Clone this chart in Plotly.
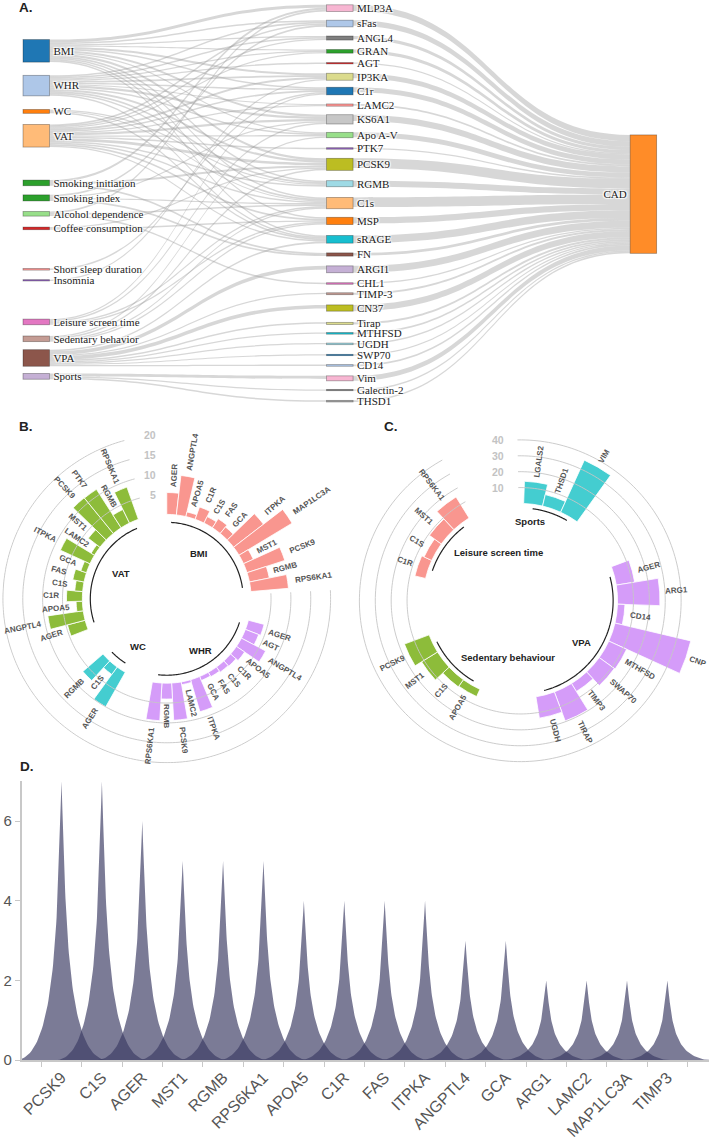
import numpy as np
import plotly.graph_objects as go

FIG_W, FIG_H = 709, 1143
SANS = "Liberation Sans, Arial, sans-serif"
SERIF = "Liberation Serif, Times New Roman, serif"

# ======================= Panel A : Sankey data =======================
exposures = ["BMI", "WHR", "WC", "VAT", "Smoking initiation", "Smoking index",
             "Alcohol dependence", "Coffee consumption", "Short sleep duration",
             "Insomnia", "Leisure screen time", "Sedentary behavior", "VPA", "Sports"]
proteins = ["MLP3A", "sFas", "ANGL4", "GRAN", "AGT", "IP3KA", "C1r", "LAMC2", "KS6A1",
            "Apo A-V", "PTK7", "PCSK9", "RGMB", "C1s", "MSP", "sRAGE", "FN", "ARGI1",
            "CHL1", "TIMP-3", "CN37", "Tirap", "MTHFSD", "UGDH", "SWP70", "CD14", "Vim",
            "Galectin-2", "THSD1"]
outcome = "CAD"

link_source = (["BMI"] * 13 + ["WHR"] * 13 + ["WC"] * 3 + ["VAT"] * 14 +
               ["Smoking initiation"] * 3 + ["Smoking index"] * 4 + ["Alcohol dependence"] * 3 +
               ["Coffee consumption"] * 2 + ["Short sleep duration"] + ["Insomnia"] +
               ["Leisure screen time"] * 4 + ["Sedentary behavior"] * 4 + ["VPA"] * 9 + ["Sports"] * 3)
link_target = ["MLP3A", "sFas", "ANGL4", "GRAN", "IP3KA", "C1r", "KS6A1", "Apo A-V", "PCSK9", "RGMB", "C1s", "MSP", "sRAGE",
               "sRAGE", "AGT", "ANGL4", "Apo A-V", "C1r", "C1s", "sFas", "GRAN", "IP3KA", "LAMC2", "PCSK9", "RGMB", "KS6A1",
               "sRAGE", "C1s", "RGMB",
               "sRAGE", "ANGL4", "Apo A-V", "C1r", "C1s", "sFas", "GRAN", "IP3KA", "LAMC2", "MSP", "PCSK9", "PTK7", "RGMB", "KS6A1",
               "FN", "MLP3A", "PCSK9",
               "FN", "sFas", "KS6A1", "C1s",
               "CHL1", "MLP3A", "C1s",
               "PCSK9", "MSP",
               "C1r",
               "IP3KA",
               "C1r", "C1s", "MSP", "KS6A1",
               "Apo A-V", "C1s", "MSP", "PCSK9",
               "sRAGE", "ARGI1", "CD14", "CN37", "MTHFSD", "SWP70", "TIMP-3", "Tirap", "UGDH",
               "Galectin-2", "THSD1", "Vim"]
link_value = [3.0, 1.6, 1.2, 1.2, 2.0, 1.5, 2.0, 1.4, 2.2, 1.6, 1.6, 1.5, 1.5,
              1.5, 1.3, 1.4, 1.3, 1.5, 1.6, 1.6, 1.2, 1.8, 1.1, 2.2, 1.6, 2.2,
              1.6, 1.0, 1.2,
              1.4, 1.4, 1.3, 1.6, 1.5, 1.6, 1.2, 1.8, 1.1, 1.6, 2.6, 1.5, 1.6, 2.2,
              1.6, 2.0, 2.0,
              1.6, 1.8, 1.3, 1.3,
              1.5, 1.6, 1.5,
              1.3, 1.3,
              1.6,
              1.3,
              1.3, 1.4, 1.4, 1.5,
              1.3, 1.3, 1.4, 1.6,
              1.6, 3.6, 1.3, 3.6, 1.2, 1.2, 1.3, 1.4, 1.2,
              1.3, 1.4, 3.0]
protein_to_cad = [6.2, 5.4, 3.3, 3.3, 1.1, 4.9, 4.9, 1.9, 6.2, 4.9, 1.3, 9.5, 6.0, 9.5, 6.2,
                  7.6, 2.7, 6.8, 1.3, 1.9, 6.2, 2.1, 1.6, 1.6, 1.3, 1.6, 4.9, 1.3, 1.6]

exposure_colors = ["#1f77b4", "#aec7e8", "#ff7f0e", "#ffbb78", "#2ca02c", "#2ca02c", "#98df8a",
                   "#d62728", "#ff9896", "#9467bd", "#e377c2", "#c49c94", "#8c564b", "#c5b0d5"]
protein_colors = ["#f7b6d2", "#aec7e8", "#7f7f7f", "#2ca02c", "#d62728", "#dbdb8d", "#1f77b4",
                  "#ff9896", "#c7c7c7", "#98df8a", "#9467bd", "#bcbd22", "#9edae5", "#ffbb78",
                  "#ff7f0e", "#17becf", "#8c564b", "#c5b0d5", "#e377c2", "#c49c94", "#bcbd22",
                  "#dbdb8d", "#17becf", "#9edae5", "#1f77b4", "#aec7e8", "#f7b6d2", "#7f7f7f", "#a8a8a8"]
outcome_color = "#ff8c28"

# node layout (pixel centres)
SANKEY_H = 410
exposure_ypx = [51.2, 86.2, 112.2, 136.7, 184.2, 199.3, 215.3, 230.0, 271.2, 282.3, 324.2, 341.2, 360.5, 379.0]
protein_ypx = [8.2, 23.7, 38.3, 51.7, 63.7, 77.3, 91.7, 105.8, 120.2, 136.0, 149.5, 165.5, 185.0, 204.5,
               222.5, 241.0, 256.3, 271.2, 285.5, 295.8, 310.2, 325.7, 335.7, 346.3, 357.5, 368.0,
               381.0, 392.8, 404.0]
outcome_ypx = 195.5
COL_X = [35.3, 339.3, 643.3]

# ======================= Panel B data =======================
b_bmi_genes = ["AGER", "ANGPTL4", "APOA5", "C1R", "C1S", "FAS", "GCA", "ITPKA", "MAP1LC3A", "MST1", "PCSK9", "RGMB", "RPS6KA1"]
b_bmi_vals = [5.5, 10.0, 1.2, 3.3, 1.8, 2.7, 2.1, 9.5, 15.6, 2.7, 10.0, 5.1, 9.5]
b_whr_genes = ["AGER", "AGT", "ANGPTL4", "APOA5", "C1R", "C1S", "FAS", "GCA", "ITPKA", "LAMC2", "PCSK9", "RGMB", "RPS6KA1"]
b_whr_vals = [4.1, 3.6, 6.9, 2.5, 1.8, 1.6, 1.3, 1.1, 8.4, 0.7, 9.4, 4.0, 9.5]
b_wc_genes = ["AGER", "C1S", "RGMB"]
b_wc_vals = [10.0, 2.3, 6.7]
b_vat_genes = ["AGER", "ANGPTL4", "APOA5", "C1R", "C1S", "FAS", "GCA", "ITPKA", "LAMC2", "MST1", "PCSK9", "PTK7", "RGMB", "RPS6KA1"]
b_vat_vals = [4.6, 9.0, 1.6, 4.0, 2.0, 2.9, 1.5, 8.2, 1.0, 3.7, 11.6, 11.5, 3.8, 8.6]
b_ticks = [5, 10, 15, 20]

# ======================= Panel C data =======================
c_sports_genes = ["LGALS2", "THSD1", "VIM"]
c_sports_vals = [14.0, 7.4, 36.0]
c_vpa_genes = ["AGER", "ARG1", "CD14", "CNP", "MTHFSD", "SWAP70", "TIMP3", "TIRAP", "UGDH"]
c_vpa_vals = [11.7, 26.7, 4.7, 49.0, 12.3, 11.7, 5.9, 19.5, 13.6]
c_sed_genes = ["APOA5", "C1S", "MST1", "PCSK9"]
c_sed_vals = [5.0, 5.5, 11.8, 16.6]
c_lst_genes = ["C1R", "C1S", "MST1", "RPS6KA1"]
c_lst_vals = [6.9, 5.3, 9.2, 15.6]
c_ticks = [10, 20, 30, 40]

# ======================= Panel D data =======================
d_genes = ["PCSK9", "C1S", "AGER", "MST1", "RGMB", "RPS6KA1", "APOA5", "C1R", "FAS", "ITPKA",
           "ANGPTL4", "GCA", "ARG1", "LAMC2", "MAP1LC3A", "TIMP3"]
d_counts = [7, 7, 6, 5, 5, 5, 4, 4, 4, 4, 3, 3, 2, 2, 2, 2]

SALMON, GREEN, CYAN, PURPLE = "#F9968F", "#8DBC3A", "#44CDD0", "#D59CF9"

fig = go.Figure()
annotations = []


def px2paper(x, y):
    return x / FIG_W, 1 - y / FIG_H


# ----------------------- Sankey -----------------------
labels = exposures + proteins + [outcome]
index = {name: i for i, name in enumerate(labels)}
src = [index[s] for s in link_source] + [index[p] for p in proteins]
tgt = [index[t] for t in link_target] + [index[outcome]] * len(proteins)
val = list(link_value) + list(protein_to_cad)
inflow = np.zeros(len(labels))
outflow = np.zeros(len(labels))
for s, t, v in zip(src, tgt, val):
    outflow[s] += v
    inflow[t] += v
node_val = np.maximum(inflow, outflow)
ne, npr = len(exposures), len(proteins)
mid_total = node_val[ne:ne + npr].sum()
pad = (SANKEY_H - mid_total) / (npr - 1)

node_x = [COL_X[0] / FIG_W] * ne + [COL_X[1] / FIG_W] * npr + [COL_X[2] / FIG_W]
node_y = [y / SANKEY_H for y in exposure_ypx + protein_ypx + [outcome_ypx]]

fig.add_trace(go.Sankey(
    domain=dict(x=[0, 1], y=[1 - SANKEY_H / FIG_H, 1]),
    arrangement="fixed",
    hoverinfo="none",
    textfont=dict(family=SERIF, size=11, color="#222"),
    node=dict(label=labels, x=node_x, y=node_y, pad=pad, thickness=26.5,
              color=exposure_colors + protein_colors + [outcome_color],
              line=dict(color="rgba(0,0,0,0.35)", width=0.8), hoverinfo="none"),
    link=dict(source=src, target=tgt, value=val, color="rgba(155,155,155,0.4)", hoverinfo="none"),
))


# ----------------------- circular bar panels -----------------------
def circ_panel(pid, groups, gap_slots, cx, cy, R, hole_px, rmin, rmax, ticks, tick_dx,
               arc_range, garc_v, glabel_r, label_gap, t_offset=0.0):
    n_slots = sum(len(g[1]) for g in groups) + gap_slots * len(groups)
    step = 360.0 / n_slots
    scale = (R - hole_px) / (rmax - rmin)

    def rpx(v):
        return hole_px + (v - rmin) * scale

    def pos_px(r, t):
        return cx + r * np.sin(np.radians(t)), cy - r * np.cos(np.radians(t))

    th = np.linspace(arc_range[0], arc_range[1], 240)
    for tv in ticks:
        fig.add_trace(go.Scatterpolar(subplot=pid, r=[tv] * len(th), theta=th, mode="lines",
                                      line=dict(color="#c6c6c6", width=0.9), hoverinfo="skip",
                                      showlegend=False))
    k = 0
    for gname, genes, vals, color in groups:
        thetas = [t_offset + step * (k + i + 0.5) for i in range(len(genes))]
        fig.add_trace(go.Barpolar(subplot=pid, r=vals, theta=thetas, base=[0] * len(vals),
                                  width=[step] * len(vals),
                                  marker=dict(color=color, line=dict(color="white", width=0.8)),
                                  hoverinfo="skip", showlegend=False))
        ga = np.linspace(thetas[0], thetas[-1], 80)
        fig.add_trace(go.Scatterpolar(subplot=pid, r=[garc_v] * len(ga), theta=ga, mode="lines",
                                      line=dict(color="#222", width=1.2), hoverinfo="skip",
                                      showlegend=False))
        for t, gene, v in zip(thetas, genes, vals):
            std = 90 - t
            if np.cos(np.radians(std)) >= -1e-9:
                ang = -std
            else:
                ang = -(std + 180)
            ang = (ang + 180) % 360 - 180
            est_len = 0.67 * 8 * len(gene)
            xp, yp = pos_px(rpx(v) + label_gap + est_len / 2, t)
            hx = est_len / 2 * abs(np.cos(np.radians(ang))) + 4 * abs(np.sin(np.radians(ang)))
            xp = min(xp, FIG_W - 2 - hx)
            x, y = px2paper(xp, yp)
            annotations.append(dict(x=x, y=y, xref="paper", yref="paper", text=gene, showarrow=False,
                                    textangle=ang, xanchor="center", yanchor="middle",
                                    font=dict(family=SANS, size=8, color="#555", weight="bold")))
        tmid = (thetas[0] + thetas[-1]) / 2
        x, y = px2paper(*pos_px(glabel_r, tmid))
        if tmid <= 125:
            anc = "right"
        elif tmid <= 185:
            anc = "center"
        else:
            anc = "left"
        annotations.append(dict(x=x, y=y, xref="paper", yref="paper", text=gname, showarrow=False,
                                xanchor=anc, yanchor="middle",
                                font=dict(family=SANS, size=9.5, color="#222", weight="bold")))
        k += len(genes) + gap_slots
    for tv in ticks:
        x, y = px2paper(cx + tick_dx, cy - rpx(tv))
        annotations.append(dict(x=x, y=y, xref="paper", yref="paper", text=str(tv), showarrow=False,
                                xanchor="right", yanchor="middle",
                                font=dict(family=SANS, size=10.5, color="#c3c3c3", weight="bold")))
    dom_x = [(cx - R) / FIG_W, (cx + R) / FIG_W]
    dom_y = [1 - (cy + R) / FIG_H, 1 - (cy - R) / FIG_H]
    return dict(domain=dict(x=dom_x, y=dom_y), hole=hole_px / R, bgcolor="rgba(0,0,0,0)",
                radialaxis=dict(range=[rmin, rmax], visible=False),
                angularaxis=dict(direction="clockwise", rotation=90, visible=False))


polarB = circ_panel("polar",
                    [("BMI", b_bmi_genes, b_bmi_vals, SALMON),
                     ("WHR", b_whr_genes, b_whr_vals, PURPLE),
                     ("WC", b_wc_genes, b_wc_vals, CYAN),
                     ("VAT", b_vat_genes, b_vat_vals, GREEN)],
                    3, 166, 603, 166, 73, -3, 20.25, b_ticks, -9, (87, 345), -2, 62, 7)
polarC = circ_panel("polar2",
                    [("Sports", c_sports_genes, c_sports_vals, CYAN),
                     ("VPA", c_vpa_genes, c_vpa_vals, PURPLE),
                     ("Sedentary behaviour", c_sed_genes, c_sed_vals, GREEN),
                     ("Leisure screen time", c_lst_genes, c_lst_vals, SALMON)],
                    3, 520, 605, 185, 90, -5, 54.375, c_ticks, -14, (-1, 331), -2.8, 84, 5,
                    t_offset=2.0)

# ----------------------- Panel D spikes -----------------------
def bezier(p0, p1, p2, p3, n=60):
    t = np.linspace(0, 1, n)[:, None]
    return ((1 - t) ** 3) * p0 + 3 * ((1 - t) ** 2) * t * p1 + 3 * (1 - t) * (t ** 2) * p2 + (t ** 3) * p3

right = bezier(np.array([1, 0]), np.array([0.1, 0]), np.array([0.1, 0.5]), np.array([0, 1]))
left = bezier(np.array([0, 1]), np.array([-0.1, 0.5]), np.array([-0.1, 0]), np.array([-1, 0]))
spike = np.vstack([right, left[1:]])
SPIKE_HALF = 1.15

for i, (g, v) in enumerate(zip(d_genes, d_counts)):
    fig.add_trace(go.Scatter(x=i + SPIKE_HALF * spike[:, 0], y=v * spike[:, 1], mode="lines",
                             fill="toself", fillcolor="rgba(60,60,100,0.68)", line=dict(width=0),
                             hoverinfo="skip", showlegend=False, xaxis="x", yaxis="y"))

d_top, d_bot = 786.7, 1067.7
fig.update_layout(
    xaxis=dict(domain=[20.7 / FIG_W, 1], range=[-0.986, 16.03], anchor="y",
               tickmode="array", tickvals=list(range(len(d_genes))), ticktext=d_genes,
               tickangle=-45, ticks="", showgrid=False, zeroline=False,
               showline=True, linecolor="#c8c8c8", linewidth=1.5,
               tickfont=dict(family=SANS, size=16, color="#555"),
               minor=dict(tickmode="array", tickvals=[i - 0.5 for i in range(len(d_genes) + 1)],
                          ticks="outside", ticklen=5, tickcolor="#c8c8c8", tickwidth=1.2, showgrid=False)),
    yaxis=dict(domain=[1 - d_bot / FIG_H, 1 - d_top / FIG_H], range=[0, 7], anchor="x",
               tickmode="array", tickvals=[0, 2, 4, 6], ticks="outside", ticklen=5,
               tickcolor="#c8c8c8", showgrid=False, zeroline=False, showline=True,
               linecolor="#c8c8c8", linewidth=1.5,
               tickfont=dict(family=SANS, size=15, color="#555")),
)

for txt, x, y in [("A.", 16, 8), ("B.", 16, 430), ("C.", 382, 430), ("D.", 17, 772)]:
    px, py = px2paper(x, y)
    annotations.append(dict(x=px, y=py, xref="paper", yref="paper", text=txt, showarrow=False,
                            xanchor="left", yanchor="middle",
                            font=dict(family=SANS, size=13.5, color="#222", weight="bold")))

fig.update_layout(
    width=FIG_W, height=FIG_H, margin=dict(l=0, r=0, t=0, b=0),
    paper_bgcolor="white", plot_bgcolor="white", showlegend=False,
    polar=polarB, polar2=polarC, annotations=annotations,
    font=dict(family=SANS),
)

fig.write_html("out.html", post_script="document.body.style.margin='0px';",
               config={"displayModeBar": False})
